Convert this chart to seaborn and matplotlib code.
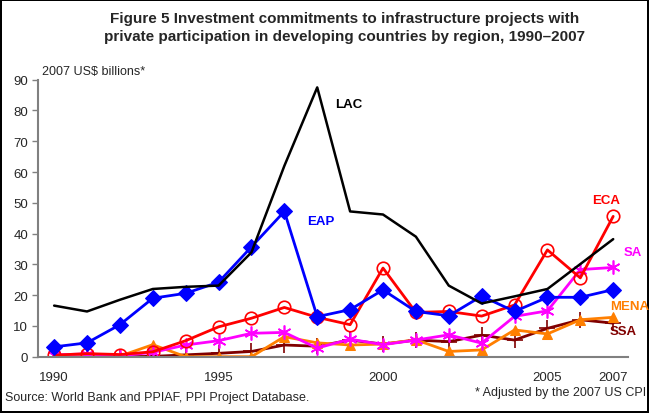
import numpy as np
import pandas as pd
import matplotlib
matplotlib.use("Agg")
import matplotlib.pyplot as plt
import seaborn as sns

# data (2007 US$ billions)
years = list(range(1990, 2008))
lac = [16.6, 14.7, 18.5, 22.0, 22.7, 23.1, 33.9, 62.0, 87.5, 47.2, 46.2, 39.0, 23.1, 17.3, 19.6, 22.0, 30.1, 38.2]
eap = [3.2, 4.5, 10.4, 19.0, 20.6, 24.2, 35.7, 47.2, 13.0, 15.3, 21.7, 14.7, 13.3, 19.7, 14.7, 19.3, 19.3, 21.8]
eca = [0.5, 1.0, 0.7, 1.6, 5.2, 9.7, 12.5, 16.0, 12.8, 10.4, 28.8, 14.4, 14.7, 13.2, 16.8, 34.7, 25.6, 45.6]
sa = [0.6, 0.9, 0.3, 1.4, 3.8, 5.2, 7.6, 7.9, 2.8, 5.7, 3.9, 5.4, 7.1, 4.4, 13.1, 14.9, 28.3, 29.0]
mena = [0.0, 0.3, 0.2, 3.9, 0.0, 0.0, 0.0, 6.5, 4.5, 3.8, 4.1, 5.5, 1.7, 2.2, 8.7, 7.4, 12.0, 12.8]
ssa = [0.0, 0.0, 0.0, 0.1, 0.6, 1.1, 1.7, 3.8, 3.4, 5.4, 4.1, 5.4, 4.9, 7.0, 5.4, 9.2, 12.0, 10.9]

regions = ["LAC", "EAP", "ECA", "SA", "MENA", "SSA"]
values = [lac, eap, eca, sa, mena, ssa]
x_ticks = [1990, 1995, 2000, 2005, 2007]

df = pd.DataFrame({
    "year": years * len(regions),
    "region": np.repeat(regions, len(years)),
    "value": sum(values, []),
})

sns.set_style("white")
plt.rcParams["font.family"] = ["Liberation Sans", "DejaVu Sans"]

fig = plt.figure(figsize=(6.49, 4.14), dpi=100)
fig.patch.set_edgecolor("black")
fig.patch.set_linewidth(1.5)
ax = fig.add_axes([37.7 / 649, 1 - 357.7 / 414, (628 - 37.7) / 649, (357.7 - 80.7) / 414])

styles = {
    "LAC": dict(color="black", marker=None),
    "EAP": dict(color="#0000FF", marker="D", markersize=8, mfc="#0000FF", mec="#0000FF"),
    "ECA": dict(color="#FF0000", marker="o", markersize=9, mfc="none", mec="#FF0000", mew=1.2),
    "SA": dict(color="#FF00FF", marker=(6, 2, 0), markersize=10, mec="#FF00FF", mew=1.2),
    "MENA": dict(color="#FF7F00", marker="^", markersize=6.5, mfc="#FF7F00", mec="#FF7F00"),
    "SSA": dict(color="#800000", marker="+", markersize=11, mec="#800000", mew=1.2),
}
order = ["SSA", "MENA", "SA", "ECA", "EAP", "LAC"]
for r in order:
    sub = df[df["region"] == r]
    sns.lineplot(data=sub, x="year", y="value", ax=ax, linewidth=2 if r != "LAC" else 1.8,
                 **styles[r])

ax.set_xlim(1989.5, 2007.45)
ax.set_ylim(0, 90)
ax.set_yticks(range(0, 91, 10))
ax.set_xticks(x_ticks)
ax.set_xticklabels([str(t) for t in x_ticks])
ax.set_xlabel("")
ax.set_ylabel("")
ax.tick_params(axis="y", length=4, width=1, color="#808080", labelsize=9.5, pad=3, left=True)
ax.tick_params(axis="x", length=0, labelsize=9.5, pad=10)
for s in ["top", "right"]:
    ax.spines[s].set_visible(False)
for s in ["left", "bottom"]:
    ax.spines[s].set_color("#808080")
    ax.spines[s].set_linewidth(1.5)

# series labels
lab = dict(fontsize=9.5, fontweight="bold", ha="center", va="center")
ax.text(1998.95, 82, "LAC", color="black", **lab)
ax.text(1998.1, 44, "EAP", color="#0000FF", **lab)
ax.text(2006.8, 51, "ECA", color="#FF0000", **lab)
ax.text(2007.6, 34, "SA", color="#FF00FF", clip_on=False, **lab)
ax.text(2007.5, 16.5, "MENA", color="#FF7F00", clip_on=False, **lab)
ax.text(2007.3, 8.2, "SSA", color="#800000", clip_on=False, **lab)

ax.text(0.008, 1.03, "2007 US$ billions*", transform=ax.transAxes, fontsize=9, ha="left", va="center")

fig.text(345 / 649, 1 - 28 / 414, "Figure 5 Investment commitments to infrastructure projects with\nprivate participation in developing countries by region, 1990\u20132007",
         ha="center", va="center", fontsize=11, fontweight="bold", linespacing=1.4)
fig.text(5 / 649, 1 - 398 / 414, "Source: World Bank and PPIAF, PPI Project Database.", fontsize=9, ha="left", va="center")
fig.text(646 / 649, 1 - 393 / 414, "* Adjusted by the 2007 US CPI", fontsize=9, ha="right", va="center")

fig.savefig("out.png", dpi=100, edgecolor=fig.get_edgecolor())
